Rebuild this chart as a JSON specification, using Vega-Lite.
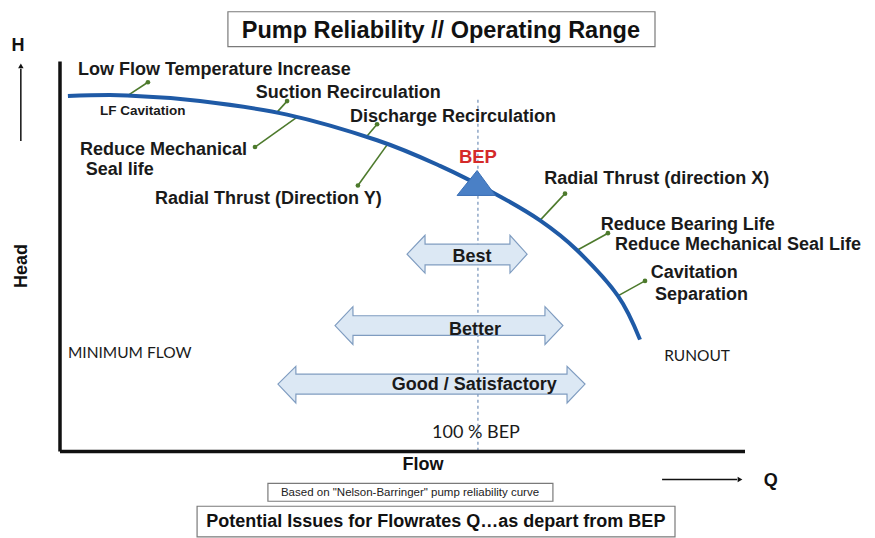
{
  "$schema": "https://vega.github.io/schema/vega-lite/v6.json",
  "width": 875,
  "height": 538,
  "autosize": {"type": "fit", "contains": "padding"},
  "padding": 0,
  "background": "white",
  "config": {"view": {"stroke": null}},
  "datasets": {
    "curve": [
      {"f": 1.9, "h": 99.8}, {"f": 16.1, "h": 100.0}, {"f": 33.6, "h": 98.4},
      {"f": 54.5, "h": 94.6}, {"f": 76.1, "h": 87.4},
      {"f": 91.2, "h": 80.2}, {"f": 104.4, "h": 72.4},
      {"f": 115.2, "h": 64.9}, {"f": 124.1, "h": 56.5}, {"f": 133.9, "h": 43.7},
      {"f": 139.2, "h": 31.4}
    ],
    "segments": [
      {"kind": "axis", "f": 0, "h": 109.5, "f2": 0, "h2": 0},
      {"kind": "axis", "f": 0, "h": 0, "f2": 164.4, "h2": 0},
      {"kind": "pointer", "f": -9.4, "h": 87.2, "f2": -9.4, "h2": 107.5},
      {"kind": "pointer", "f": 144.5, "h": -7.9, "f2": 162.5, "h2": -7.9},
      {"kind": "bep", "f": 100.3, "h": 98.8, "f2": 100.3, "h2": 0},
      {"kind": "leader", "f": 16.3, "h": 100.0, "f2": 21.1, "h2": 103.7},
      {"kind": "leader", "f": 52.1, "h": 95.3, "f2": 54.5, "h2": 98.4},
      {"kind": "leader", "f": 56.9, "h": 93.9, "f2": 46.8, "h2": 85.5},
      {"kind": "leader", "f": 73.7, "h": 88.6, "f2": 76.1, "h2": 91.9},
      {"kind": "leader", "f": 78.5, "h": 86.1, "f2": 71.5, "h2": 74.7},
      {"kind": "leader", "f": 115.2, "h": 64.9, "f2": 121.2, "h2": 72.4},
      {"kind": "leader", "f": 124.1, "h": 56.5, "f2": 131.5, "h2": 61.3},
      {"kind": "leader", "f": 133.9, "h": 43.7, "f2": 140.4, "h2": 47.9}
    ],
    "heads": [
      {"dir": "up", "f": -9.4, "h": 108.3},
      {"dir": "right", "f": 163.2, "h": -7.9}
    ],
    "boxes": [
      {"box": "title", "f": 40.3, "f2": 142.8, "h": 123.5, "h2": 113.7},
      {"box": "source", "f": 49.9, "f2": 118.3, "h": -9.0, "h2": -14.0},
      {"box": "caption", "f": 32.9, "f2": 147.6, "h": -15.4, "h2": -24.0}
    ],
    "zones": [
      {"zone": "Best", "f": 83.3, "top": 55.4, "bottom": 55.4},
      {"zone": "Best", "f": 87.6, "top": 60.7, "bottom": 50.1},
      {"zone": "Best", "f": 87.62, "top": 58.2, "bottom": 52.4},
      {"zone": "Best", "f": 107.98, "top": 58.2, "bottom": 52.4},
      {"zone": "Best", "f": 108.0, "top": 60.7, "bottom": 50.1},
      {"zone": "Best", "f": 112.1, "top": 55.4, "bottom": 55.4},
      {"zone": "Better", "f": 66.0, "top": 35.35, "bottom": 35.35},
      {"zone": "Better", "f": 70.3, "top": 40.65, "bottom": 30.05},
      {"zone": "Better", "f": 70.32, "top": 38.1, "bottom": 32.6},
      {"zone": "Better", "f": 116.38, "top": 38.1, "bottom": 32.6},
      {"zone": "Better", "f": 116.4, "top": 40.65, "bottom": 30.05},
      {"zone": "Better", "f": 120.7, "top": 35.35, "bottom": 35.35},
      {"zone": "Good", "f": 52.3, "top": 18.9, "bottom": 18.9},
      {"zone": "Good", "f": 56.6, "top": 23.9, "bottom": 13.6},
      {"zone": "Good", "f": 56.62, "top": 21.7, "bottom": 16.1},
      {"zone": "Good", "f": 121.68, "top": 21.7, "bottom": 16.1},
      {"zone": "Good", "f": 121.7, "top": 23.9, "bottom": 13.6},
      {"zone": "Good", "f": 126.0, "top": 18.9, "bottom": 18.9}
    ],
    "bepmark": [
      {"f": 95.3, "top": 71.9, "bottom": 71.9},
      {"f": 100.1, "top": 78.9, "bottom": 71.9},
      {"f": 104.5, "top": 71.9, "bottom": 71.9}
    ],
    "labels": [
      {"group": "issue", "label": "Low Flow Temperature Increase", "f": 4.3, "h": 107.6},
      {"group": "issue", "label": "Suction Recirculation", "f": 47.0, "h": 101.1},
      {"group": "issue", "label": "Discharge Recirculation", "f": 69.6, "h": 94.5},
      {"group": "issue", "label": "Reduce Mechanical", "f": 4.8, "h": 85.3},
      {"group": "issue", "label": "Seal life", "f": 6.2, "h": 79.7},
      {"group": "issue", "label": "Radial Thrust (Direction Y)", "f": 22.8, "h": 71.6},
      {"group": "issue", "label": "Radial Thrust (direction X)", "f": 116.2, "h": 77.2},
      {"group": "issue", "label": "Reduce Bearing Life", "f": 129.8, "h": 64.3},
      {"group": "issue", "label": "Reduce Mechanical Seal Life", "f": 133.2, "h": 58.5},
      {"group": "issue", "label": "Cavitation", "f": 141.8, "h": 50.7},
      {"group": "issue", "label": "Separation", "f": 142.8, "h": 44.5},
      {"group": "minor", "label": "LF Cavitation", "f": 9.6, "h": 95.9},
      {"group": "bep", "label": "BEP", "f": 100.3, "h": 83.0},
      {"group": "zone", "label": "Best", "f": 98.9, "h": 55.1},
      {"group": "zone", "label": "Better", "f": 99.6, "h": 34.8},
      {"group": "zone", "label": "Good / Satisfactory", "f": 99.4, "h": 19.2},
      {"group": "marker", "label": "MINIMUM FLOW", "f": 1.9, "h": 28.1},
      {"group": "marker", "label": "RUNOUT", "f": 145.0, "h": 27.3},
      {"group": "bepq", "label": "100 % BEP", "f": 89.3, "h": 5.5},
      {"group": "title", "label": "Pump Reliability // Operating Range", "f": 91.4, "h": 118.4},
      {"group": "axis", "label": "H", "f": -10.1, "h": 114.3},
      {"group": "axis", "label": "Q", "f": 170.6, "h": -8.1},
      {"group": "axis", "label": "Flow", "f": 87.1, "h": -3.4},
      {"group": "head", "label": "Head", "f": -9.1, "h": 52.1},
      {"group": "source", "label": "Based on \"Nelson-Barringer\" pump reliability curve", "f": 84.0, "h": -11.5},
      {"group": "caption", "label": "Potential Issues for Flowrates Q…as depart from BEP", "f": 90.2, "h": -19.5}
    ]
  },
  "encoding": {
    "x": {"type": "quantitative", "scale": {"domain": [-14.4, 195.6], "nice": false, "zero": false}, "axis": null},
    "y": {"type": "quantitative", "scale": {"domain": [-23.2, 126.8], "nice": false, "zero": false}, "axis": null}
  },
  "layer": [
    {
      "data": {"name": "boxes"},
      "mark": {"type": "rect", "fill": "white", "stroke": "#7a7a7a", "strokeWidth": 1.2},
      "encoding": {
        "x": {"field": "f", "type": "quantitative"}, "x2": {"field": "f2"},
        "y": {"field": "h", "type": "quantitative"}, "y2": {"field": "h2"}
      }
    },
    {
      "data": {"name": "segments"},
      "transform": [{"filter": "datum.kind === 'bep'"}],
      "mark": {"type": "rule", "stroke": "#8ea6c6", "strokeWidth": 1.5, "strokeDash": [3, 3]},
      "encoding": {
        "x": {"field": "f", "type": "quantitative"}, "x2": {"field": "f2"},
        "y": {"field": "h", "type": "quantitative"}, "y2": {"field": "h2"}
      }
    },
    {
      "data": {"name": "zones"},
      "mark": {"type": "area", "fill": "#dce8f4", "fillOpacity": 1, "stroke": "#7f9cc0", "strokeWidth": 1.2, "interpolate": "linear"},
      "encoding": {
        "x": {"field": "f", "type": "quantitative"},
        "y": {"field": "top", "type": "quantitative"},
        "y2": {"field": "bottom"},
        "detail": {"field": "zone"}
      }
    },
    {
      "data": {"name": "segments"},
      "transform": [{"filter": "datum.kind === 'axis'"}],
      "mark": {"type": "rule", "stroke": "#111111", "strokeWidth": 3.5},
      "encoding": {
        "x": {"field": "f", "type": "quantitative"}, "x2": {"field": "f2"},
        "y": {"field": "h", "type": "quantitative"}, "y2": {"field": "h2"}
      }
    },
    {
      "data": {"name": "segments"},
      "transform": [{"filter": "datum.kind === 'pointer'"}],
      "mark": {"type": "rule", "stroke": "#111111", "strokeWidth": 1.5},
      "encoding": {
        "x": {"field": "f", "type": "quantitative"}, "x2": {"field": "f2"},
        "y": {"field": "h", "type": "quantitative"}, "y2": {"field": "h2"}
      }
    },
    {
      "data": {"name": "heads"},
      "transform": [{"filter": "datum.dir === 'up'"}],
      "mark": {"type": "point", "shape": "triangle-up", "filled": true, "color": "#111111", "size": 30, "opacity": 1},
      "encoding": {"x": {"field": "f", "type": "quantitative"}, "y": {"field": "h", "type": "quantitative"}}
    },
    {
      "data": {"name": "heads"},
      "transform": [{"filter": "datum.dir === 'right'"}],
      "mark": {"type": "point", "shape": "triangle-right", "filled": true, "color": "#111111", "size": 30, "opacity": 1},
      "encoding": {"x": {"field": "f", "type": "quantitative"}, "y": {"field": "h", "type": "quantitative"}}
    },
    {
      "data": {"name": "segments"},
      "transform": [{"filter": "datum.kind === 'leader'"}],
      "mark": {"type": "rule", "stroke": "#4d7a2c", "strokeWidth": 1.6},
      "encoding": {
        "x": {"field": "f", "type": "quantitative"}, "x2": {"field": "f2"},
        "y": {"field": "h", "type": "quantitative"}, "y2": {"field": "h2"}
      }
    },
    {
      "data": {"name": "segments"},
      "transform": [{"filter": "datum.kind === 'leader'"}],
      "mark": {"type": "point", "shape": "circle", "filled": true, "color": "#4d7a2c", "size": 22, "opacity": 1},
      "encoding": {"x": {"field": "f2", "type": "quantitative"}, "y": {"field": "h2", "type": "quantitative"}}
    },
    {
      "data": {"name": "curve"},
      "mark": {"type": "line", "stroke": "#1f5aa6", "strokeWidth": 4, "interpolate": "cardinal", "strokeCap": "butt"},
      "encoding": {"x": {"field": "f", "type": "quantitative"}, "y": {"field": "h", "type": "quantitative"}}
    },
    {
      "data": {"name": "bepmark"},
      "mark": {"type": "area", "fill": "#4a80c6", "fillOpacity": 1, "stroke": "#3a6fb5", "strokeWidth": 1},
      "encoding": {
        "x": {"field": "f", "type": "quantitative"},
        "y": {"field": "top", "type": "quantitative"},
        "y2": {"field": "bottom"}
      }
    },
    {
      "data": {"name": "labels"},
      "transform": [{"filter": "datum.group === 'issue'"}],
      "mark": {"type": "text", "align": "left", "baseline": "middle", "dy": 2, "font": "Liberation Sans", "fontWeight": "bold", "fontSize": 18, "color": "#1a1a1a"},
      "encoding": {"x": {"field": "f", "type": "quantitative"}, "y": {"field": "h", "type": "quantitative"}, "text": {"field": "label"}}
    },
    {
      "data": {"name": "labels"},
      "transform": [{"filter": "datum.group === 'minor'"}],
      "mark": {"type": "text", "align": "left", "baseline": "middle", "dy": 1, "font": "Liberation Sans", "fontWeight": "bold", "fontSize": 13.5, "color": "#1a1a1a"},
      "encoding": {"x": {"field": "f", "type": "quantitative"}, "y": {"field": "h", "type": "quantitative"}, "text": {"field": "label"}}
    },
    {
      "data": {"name": "labels"},
      "transform": [{"filter": "datum.group === 'bep'"}],
      "mark": {"type": "text", "align": "center", "baseline": "middle", "dy": 1.5, "font": "Liberation Sans", "fontWeight": "bold", "fontSize": 18.5, "color": "#d42a2a"},
      "encoding": {"x": {"field": "f", "type": "quantitative"}, "y": {"field": "h", "type": "quantitative"}, "text": {"field": "label"}}
    },
    {
      "data": {"name": "labels"},
      "transform": [{"filter": "datum.group === 'zone'"}],
      "mark": {"type": "text", "align": "center", "baseline": "middle", "dy": 2, "font": "Liberation Sans", "fontWeight": "bold", "fontSize": 18, "color": "#1a1a1a"},
      "encoding": {"x": {"field": "f", "type": "quantitative"}, "y": {"field": "h", "type": "quantitative"}, "text": {"field": "label"}}
    },
    {
      "data": {"name": "labels"},
      "transform": [{"filter": "datum.group === 'marker'"}],
      "mark": {"type": "text", "align": "left", "baseline": "middle", "dy": 1.5, "font": "Lato", "fontSize": 15.5, "color": "#1a1a1a"},
      "encoding": {"x": {"field": "f", "type": "quantitative"}, "y": {"field": "h", "type": "quantitative"}, "text": {"field": "label"}}
    },
    {
      "data": {"name": "labels"},
      "transform": [{"filter": "datum.group === 'bepq'"}],
      "mark": {"type": "text", "align": "left", "baseline": "middle", "dy": 1.5, "font": "Lato", "fontSize": 18, "color": "#1a1a1a"},
      "encoding": {"x": {"field": "f", "type": "quantitative"}, "y": {"field": "h", "type": "quantitative"}, "text": {"field": "label"}}
    },
    {
      "data": {"name": "labels"},
      "transform": [{"filter": "datum.group === 'title'"}],
      "mark": {"type": "text", "align": "center", "baseline": "middle", "dy": 1, "font": "Liberation Sans", "fontWeight": "bold", "fontSize": 23.5, "color": "#111111"},
      "encoding": {"x": {"field": "f", "type": "quantitative"}, "y": {"field": "h", "type": "quantitative"}, "text": {"field": "label"}}
    },
    {
      "data": {"name": "labels"},
      "transform": [{"filter": "datum.group === 'axis'"}],
      "mark": {"type": "text", "align": "center", "baseline": "middle", "dy": 1, "font": "Liberation Sans", "fontWeight": "bold", "fontSize": 18, "color": "#111111"},
      "encoding": {"x": {"field": "f", "type": "quantitative"}, "y": {"field": "h", "type": "quantitative"}, "text": {"field": "label"}}
    },
    {
      "data": {"name": "labels"},
      "transform": [{"filter": "datum.group === 'head'"}],
      "mark": {"type": "text", "align": "center", "baseline": "middle", "angle": 270, "font": "Liberation Sans", "fontWeight": "bold", "fontSize": 18, "color": "#111111"},
      "encoding": {"x": {"field": "f", "type": "quantitative"}, "y": {"field": "h", "type": "quantitative"}, "text": {"field": "label"}}
    },
    {
      "data": {"name": "labels"},
      "transform": [{"filter": "datum.group === 'source'"}],
      "mark": {"type": "text", "align": "center", "baseline": "middle", "dy": 0.5, "font": "Liberation Sans", "fontSize": 11.5, "color": "#222222"},
      "encoding": {"x": {"field": "f", "type": "quantitative"}, "y": {"field": "h", "type": "quantitative"}, "text": {"field": "label"}}
    },
    {
      "data": {"name": "labels"},
      "transform": [{"filter": "datum.group === 'caption'"}],
      "mark": {"type": "text", "align": "center", "baseline": "middle", "dy": 1, "font": "Liberation Sans", "fontWeight": "bold", "fontSize": 18, "color": "#111111"},
      "encoding": {"x": {"field": "f", "type": "quantitative"}, "y": {"field": "h", "type": "quantitative"}, "text": {"field": "label"}}
    }
  ]
}
